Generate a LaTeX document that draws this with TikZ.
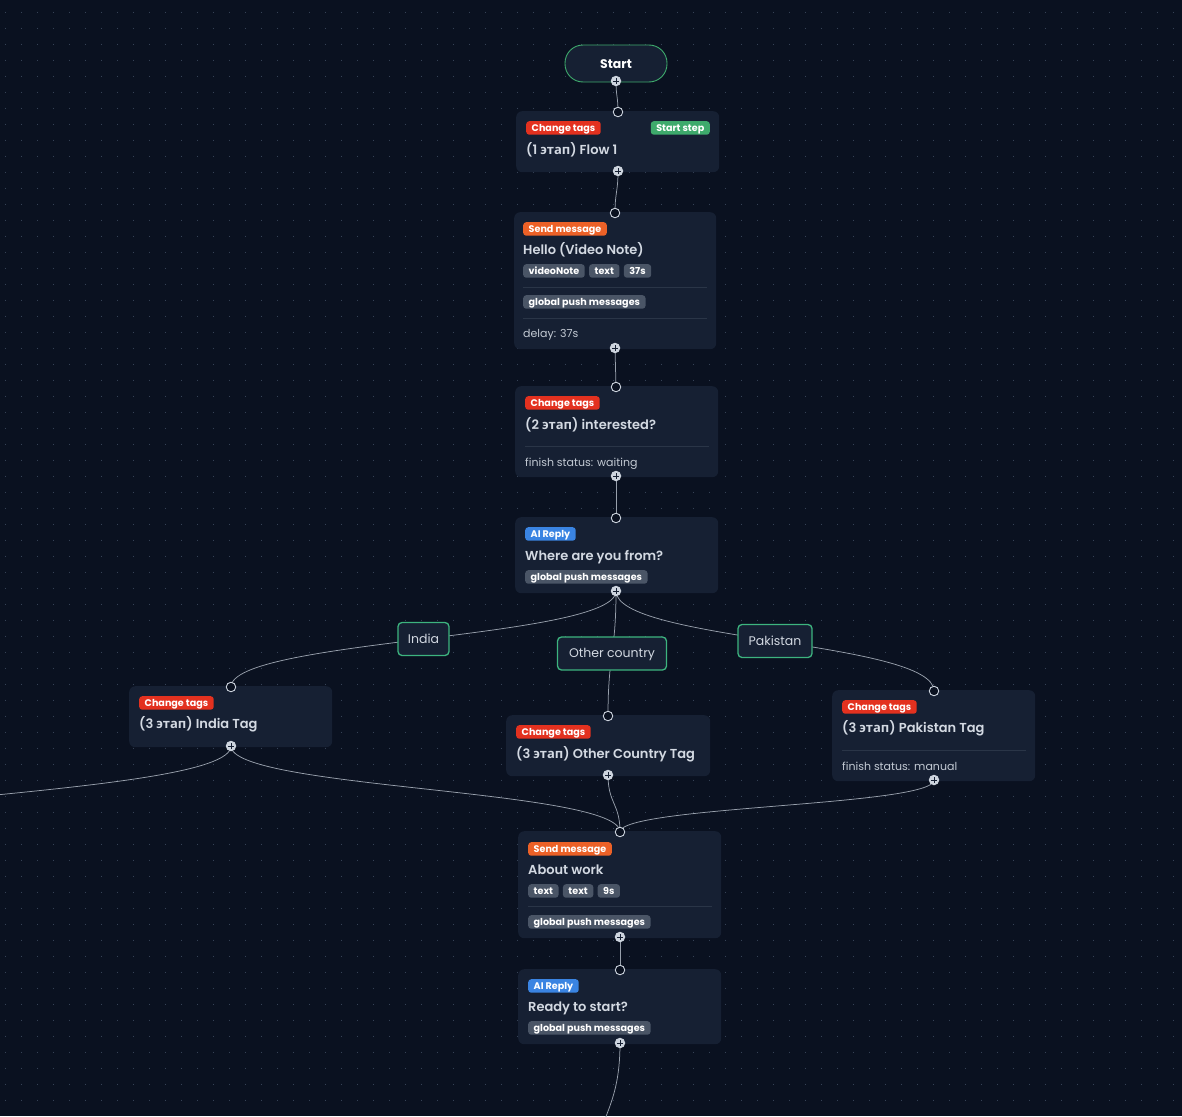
\documentclass[tikz,border=0pt]{standalone}
\usepackage{fontspec}
\setmainfont{Poppins}
\newfontfamily\semi{Poppins SemiBold}
\newfontfamily\cyr{Open Sans}
\newcommand{\etap}{{\cyr\bfseries этап}}
\usetikzlibrary{calc}
\definecolor{bgc}{HTML}{0A1120}
\definecolor{dotc}{HTML}{364256}
\definecolor{cardc}{HTML}{162033}
\definecolor{txt}{HTML}{D3D9E2}
\definecolor{subtxt}{HTML}{C3CAD4}
\definecolor{sepc}{HTML}{2A3547}
\definecolor{tagc}{HTML}{4A5566}
\definecolor{redb}{HTML}{E3311F}
\definecolor{greenb}{HTML}{3EAA6C}
\definecolor{orangeb}{HTML}{EC6127}
\definecolor{blueb}{HTML}{3A84E2}
\definecolor{lblborder}{HTML}{3DB47F}
\definecolor{handlec}{HTML}{CDD4DE}
\definecolor{edgec}{HTML}{98A0AC}
\pgfdeclarelayer{bgl}
\pgfdeclarelayer{edgel}
\pgfsetlayers{bgl,edgel,main}
\tikzset{
  card/.style={fill=cardc, rounded corners=6pt, inner sep=0, anchor=north west},
  title/.style={font=\fontsize{13}{15}\selectfont\semi, text=txt, anchor=base west, inner sep=0},
  small/.style={font=\fontsize{11}{13}\selectfont, text=subtxt, anchor=base west, inner sep=0},
  badge/.style={font=\fontsize{9.6}{11}\selectfont\bfseries, text=white, rounded corners=3pt, inner xsep=5.5pt, inner ysep=0, minimum height=13.5pt, text height=6.7pt, text depth=0pt, anchor=north west},
  tag/.style={font=\fontsize{9.6}{11}\selectfont\bfseries, text=white, fill=tagc, rounded corners=3pt, inner xsep=5.5pt, inner ysep=0, minimum height=13.5pt, text height=6.7pt, text depth=0pt, anchor=north west},
  sepl/.style={draw=sepc, line width=0.8pt},
  inh/.style={circle, draw=handlec, fill=bgc, line width=0.9pt, inner sep=0, minimum size=9.5pt},
  outh/.style={circle, fill=handlec, inner sep=0, minimum size=10.5pt,
    path picture={\draw[cardc, line width=1pt] ($(path picture bounding box.center)+(-2.7pt,0pt)$) -- ($(path picture bounding box.center)+(2.7pt,0pt)$) ($(path picture bounding box.center)+(0pt,-2.7pt)$) -- ($(path picture bounding box.center)+(0pt,2.7pt)$);}},
  flow/.style={draw=edgec, line width=0.75pt,
    to path={.. controls ($(\tikztostart)!0.5!(\tikztostart|-\tikztotarget)$) and ($(\tikztotarget)!0.5!(\tikztotarget|-\tikztostart)$) .. (\tikztotarget) \tikztonodes}},
  lbl/.style={draw=lblborder, line width=1.3pt, fill=cardc, rounded corners=4pt, text=txt, font=\fontsize{12.5}{14}\selectfont, minimum height=33pt, inner sep=0, text height=8.8pt, text depth=0pt, pos=0.5},
}
\begin{document}
\begin{tikzpicture}[x=1pt,y=-1pt]
\useasboundingbox (0,0) rectangle (1182,1116);
\begin{pgfonlayer}{bgl}
\fill[bgc] (0,0) rectangle (1182,1116);
\foreach \i in {0,...,73}{\draw[dotc, line width=1pt, dash pattern=on 1.6pt off 14.4pt] (5+16*\i,11.7) -- (5+16*\i,1108);}
\end{pgfonlayer}

% Start
\node[draw=greenb, line width=0.9pt, fill=cardc, rounded corners=18pt, minimum width=102pt, minimum height=37pt, inner sep=0, text=white, text height=9pt, text depth=0pt, font=\fontsize{12.5}{14}\selectfont\bfseries] (start) at (616,63.5) {Start};
\node[outh] (startout) at (616,81) {};

% Card 1
\node[card, minimum width=203pt, minimum height=61pt] (c1) at (516,111) {};
\node[badge, fill=redb] (c1b) at (526,121) {Change tags};
\node[badge, fill=greenb, anchor=north east] (c1s) at (710,121) {Start step};
\node[title] (c1t) at (526,154.5) {(1 \etap) Flow 1};
\node[inh] (c1in) at (618,112) {};
\node[outh] (c1out) at (618,171) {};

% Card 2
\node[card, minimum width=202pt, minimum height=137pt] (c2) at (514,212) {};
\node[badge, fill=orangeb] (c2b) at (523,222) {Send message};
\node[title] (c2t) at (523,254.5) {Hello (Video Note)};
\node[tag] (c2g1) at (523,264) {videoNote};
\node[tag, anchor=north west] (c2g2) at ($(c2g1.north east)+(4pt,0pt)$) {text};
\node[tag, anchor=north west] (c2g3) at ($(c2g2.north east)+(4pt,0pt)$) {37s};
\draw[sepl] (523,287) -- (707,287);
\node[tag] (c2g4) at (523,295) {global push messages};
\draw[sepl] (523,318) -- (707,318);
\node[small] (c2d) at (523,337) {delay: 37s};
\node[inh] (c2in) at (615,213) {};
\node[outh] (c2out) at (615,348) {};

% Card 3
\node[card, minimum width=203pt, minimum height=91pt] (c3) at (515,386) {};
\node[badge, fill=redb] (c3b) at (525,396) {Change tags};
\node[title] (c3t) at (525,429.5) {(2 \etap) interested?};
\draw[sepl] (525,446) -- (709,446);
\node[small] (c3d) at (525,466) {finish status: waiting};
\node[inh] (c3in) at (616,387) {};
\node[outh] (c3out) at (616,476) {};

% Card 4
\node[card, minimum width=203pt, minimum height=76pt] (c4) at (515,517) {};
\node[badge, fill=blueb] (c4b) at (525,527) {AI Reply};
\node[title] (c4t) at (525,560.5) {Where are you from?};
\node[tag] (c4g) at (525,570) {global push messages};
\node[inh] (c4in) at (616,518) {};
\node[outh] (c4out) at (616,591) {};

% India tag card
\node[card, minimum width=203pt, minimum height=61pt] (ci) at (129,686) {};
\node[badge, fill=redb] (cib) at (139,696) {Change tags};
\node[title] (cit) at (139,728.5) {(3 \etap) India Tag};
\node[inh] (ciin) at (231,687) {};
\node[outh] (ciout) at (231,746) {};

% Other country card
\node[card, minimum width=204pt, minimum height=61pt] (co) at (506,715) {};
\node[badge, fill=redb] (cob) at (516,725) {Change tags};
\node[title] (cot) at (516,758.5) {(3 \etap) Other Country Tag};
\node[inh] (coin) at (608,716) {};
\node[outh] (coout) at (608,775) {};

% Pakistan card
\node[card, minimum width=203pt, minimum height=91pt] (cp) at (832,690) {};
\node[badge, fill=redb] (cpb) at (842,700) {Change tags};
\node[title] (cpt) at (842,732.5) {(3 \etap) Pakistan Tag};
\draw[sepl] (842,750) -- (1026,750);
\node[small] (cpd) at (842,770) {finish status: manual};
\node[inh] (cpin) at (934,691) {};
\node[outh] (cpout) at (934,780) {};

% About work card
\node[card, minimum width=203pt, minimum height=107pt] (c5) at (518,831) {};
\node[badge, fill=orangeb] (c5b) at (528,842) {Send message};
\node[title] (c5t) at (528,874.5) {About work};
\node[tag] (c5g1) at (528,884) {text};
\node[tag, anchor=north west] (c5g2) at ($(c5g1.north east)+(4pt,0pt)$) {text};
\node[tag, anchor=north west] (c5g3) at ($(c5g2.north east)+(4pt,0pt)$) {9s};
\draw[sepl] (528,906) -- (712,906);
\node[tag] (c5g4) at (528,915) {global push messages};
\node[inh] (c5in) at (620,832) {};
\node[outh] (c5out) at (620,937) {};

% Ready card
\node[card, minimum width=203pt, minimum height=75pt] (c6) at (518,969) {};
\node[badge, fill=blueb] (c6b) at (528,979) {AI Reply};
\node[title] (c6t) at (528,1011.5) {Ready to start?};
\node[tag] (c6g) at (528,1021) {global push messages};
\node[inh] (c6in) at (620,970) {};
\node[outh] (c6out) at (620,1043) {};

\coordinate (offl) at (-300,850);
\coordinate (offb) at (592,1190);

\begin{pgfonlayer}{edgel}
\draw[flow] (startout.center) to (c1in.center);
\draw[flow] (c1out.center) to (c2in.center);
\draw[flow] (c2out.center) to (c3in.center);
\draw[flow] (c3out.center) to (c4in.center);
\draw[flow] (c4out.center) to node[lbl, minimum width=51pt] (lind) {India} (ciin.center);
\draw[flow] (c4out.center) to node[lbl, minimum width=109pt] (loth) {Other country} (coin.center);
\draw[flow] (c4out.center) to node[lbl, minimum width=74pt] (lpak) {Pakistan} (cpin.center);
\draw[flow] (ciout.center) to (c5in.center);
\draw[flow] (coout.center) to (c5in.center);
\draw[flow] (cpout.center) to (c5in.center);
\draw[flow] (ciout.center) to (offl);
\draw[flow] (c5out.center) to (c6in.center);
\draw[flow] (c6out.center) to (offb);
\end{pgfonlayer}
\end{tikzpicture}
\end{document}
